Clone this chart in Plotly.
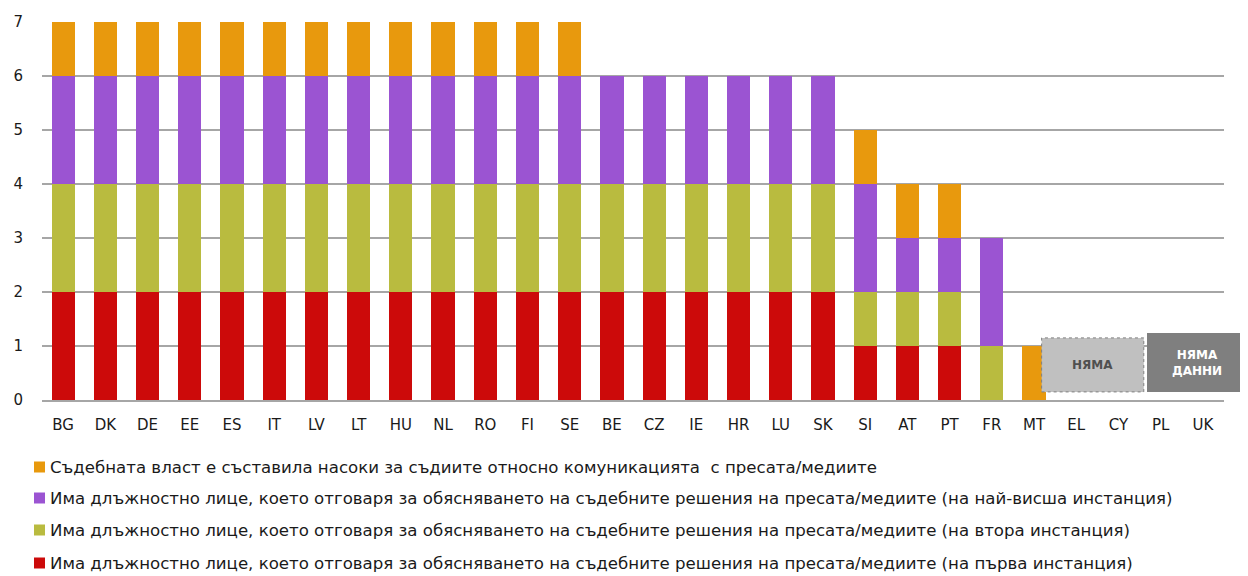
import plotly.graph_objects as go

countries = ["BG", "DK", "DE", "EE", "ES", "IT", "LV", "LT", "HU", "NL", "RO", "FI", "SE",
             "BE", "CZ", "IE", "HR", "LU", "SK", "SI", "AT", "PT", "FR", "MT",
             "EL", "CY", "PL", "UK"]
first_instance = [2]*13 + [2]*6 + [1, 1, 1, 0, 0, 0, 0, 0, 0]
second_instance = [2]*13 + [2]*6 + [1, 1, 1, 1, 0, 0, 0, 0, 0]
highest_instance = [2]*13 + [2]*6 + [2, 1, 1, 2, 0, 0, 0, 0, 0]
guidelines = [1]*13 + [0]*6 + [1, 1, 1, 0, 1, 0, 0, 0, 0]

names = [
    "Има длъжностно лице, което отговаря за обясняването на съдебните решения на пресата/медиите (на първа инстанция)",
    "Има длъжностно лице, което отговаря за обясняването на съдебните решения на пресата/медиите (на втора инстанция)",
    "Има длъжностно лице, което отговаря за обясняването на съдебните решения на пресата/медиите (на най-висша инстанция)",
    "Съдебната власт е съставила насоки за съдиите относно комуникацията  с пресата/медиите",
]
series = [first_instance, second_instance, highest_instance, guidelines]
colors = ["#cc0a0a", "#b9bb3f", "#9b54d2", "#e8990d"]

FONT = "DejaVu Sans"

fig = go.Figure()
for nm, vals, col in zip(names, series, colors):
    fig.add_trace(go.Bar(
        x=countries, y=vals, name=nm, marker=dict(color=col, line=dict(width=0)),
        width=0.55, showlegend=False,
    ))

# Plot area in page pixels: x 42..1224, y 22..400
PX0, PW, PY0, PH = 42, 1182, 400, 378


def px(x):
    return (x - PX0) / PW


def py(y):
    return (PY0 - y) / PH


# Custom legend (top to bottom: reverse of stacking order)
row_y = [563, 530, 498, 467]  # pixel centres for red, olive, purple, orange
for nm, col, yp in zip(names, colors, row_y):
    fig.add_shape(type="rect", xref="paper", yref="paper",
                  x0=px(34), x1=px(45), y0=py(yp + 5.5), y1=py(yp - 5.5),
                  fillcolor=col, line=dict(width=0))
    fig.add_annotation(xref="paper", yref="paper", x=px(48), y=py(yp),
                       xanchor="left", yanchor="middle", text=nm, showarrow=False,
                       font=dict(family=FONT, size=16.6, color="#1a1a1a"))

# No-data boxes
fig.add_shape(type="rect", xref="x", yref="y", x0=23.18, x1=25.6, y0=0.15, y1=1.15,
              fillcolor="#c0c0c0", line=dict(color="#808080", width=1, dash="dot"), layer="above")
fig.add_annotation(x=24.39, y=0.65, xref="x", yref="y", text="<b>НЯМА</b>", showarrow=False,
                   font=dict(family=FONT, size=12, color="#505050"))
fig.add_shape(type="rect", xref="paper", yref="paper", x0=px(1147), x1=px(1250),
              y0=py(392), y1=py(333), fillcolor="#7f7f7f", line=dict(width=0), layer="above")
fig.add_annotation(x=px(1197), y=py(362.5), xref="paper", yref="paper",
                   xanchor="center", yanchor="middle", align="center",
                   text="<b>НЯМА<br>ДАННИ</b>",
                   showarrow=False, font=dict(family=FONT, size=12, color="white"))

fig.update_layout(
    width=1240, height=568,
    margin=dict(l=34, r=24, t=14, b=176, autoexpand=False),
    plot_bgcolor="white", paper_bgcolor="white",
    barmode="stack",
    showlegend=False,
    font=dict(family=FONT, size=15, color="#1a1a1a"),
    xaxis=dict(showgrid=False, showline=True, linecolor="#a6a6a6", linewidth=2,
               tickfont=dict(size=15), ticks="", range=[-0.5, 27.5], tickangle=0,
               ticklabelstandoff=10),
    yaxis=dict(range=[0, 7], dtick=1, showgrid=True, gridcolor="#a6a6a6", gridwidth=2,
               zeroline=False, tickfont=dict(size=15), ticks="", ticklabelstandoff=18),
)

fig.write_html("out.html")
